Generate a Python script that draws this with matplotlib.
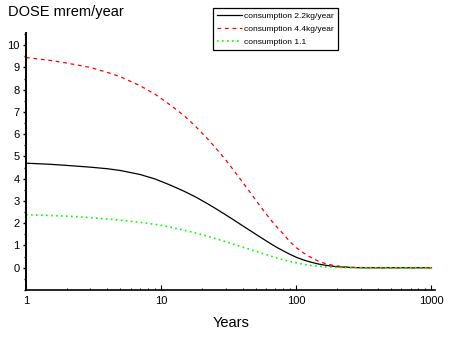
import numpy as np
import matplotlib
matplotlib.use('Agg')
import matplotlib.pyplot as plt
from matplotlib.ticker import FixedLocator, MultipleLocator, NullFormatter

plt.rcParams['font.family'] = ['Liberation Sans', 'DejaVu Sans']

# values (years, mrem/year)
years = [1, 1.5, 2, 3, 4, 5, 7, 9, 11, 13, 15, 18, 22, 25, 30, 35, 40, 45, 50, 57,
         65, 72, 80, 90, 100, 112, 125, 145, 165, 190, 220, 260, 300, 400, 500, 700, 1000]
dose_22 = [4.70, 4.65, 4.60, 4.52, 4.45, 4.37, 4.19, 3.99, 3.78, 3.59, 3.42, 3.18, 2.88, 2.68, 2.38, 2.12, 1.89, 1.69, 1.51, 1.29,
           1.07, 0.91, 0.76, 0.60, 0.47, 0.36, 0.27, 0.17, 0.11, 0.06, 0.03, 0.01, 0.0, 0.0, 0.0, 0.0, 0.0]
dose_44 = [9.45, 9.32, 9.20, 9.00, 8.78, 8.58, 8.18, 7.80, 7.43, 7.10, 6.80, 6.35, 5.80, 5.42, 4.85, 4.32, 3.85, 3.43, 3.05, 2.58,
           2.14, 1.82, 1.52, 1.16, 0.90, 0.68, 0.50, 0.30, 0.18, 0.10, 0.05, 0.02, 0.01, 0.0, 0.0, 0.0, 0.0]
dose_11 = [2.38, 2.35, 2.32, 2.25, 2.19, 2.14, 2.04, 1.95, 1.86, 1.76, 1.68, 1.56, 1.42, 1.32, 1.17, 1.04, 0.93, 0.83, 0.74, 0.63,
           0.52, 0.43, 0.36, 0.28, 0.22, 0.16, 0.11, 0.07, 0.04, 0.02, 0.01, 0.0, 0.0, 0.0, 0.0, 0.0, 0.0]

labels = ['consumption 2.2kg/year', 'consumption 4.4kg/year', 'consumption 1.1']
xticks = [1, 10, 100, 1000]
xtick_labels = ['1', '10', '100', '1000']

W, H = 451, 340
fig = plt.figure(figsize=(W / 100, H / 100), dpi=100)
ax = fig.add_axes([26 / W, 1 - 290 / H, (435 - 26) / W, (290 - 33) / H])

ax.plot(years, dose_22, color='black', lw=0.9, label=labels[0])
ax.plot(years, dose_44, color='#ff0000', lw=0.9, linestyle=(0, (3, 3)), label=labels[1])
ax.plot(years, dose_11, color='#00ff00', lw=1.2, linestyle=(0, (1, 2)), label=labels[2])

ax.set_xscale('log')
ax.set_xlim(1, 1062)
ax.set_ylim(-1, 10.55)

ax.xaxis.set_major_locator(FixedLocator(xticks))
ax.set_xticklabels(xtick_labels)
ax.xaxis.set_minor_formatter(NullFormatter())
ax.yaxis.set_major_locator(FixedLocator(list(range(0, 11))))
ax.yaxis.set_minor_locator(MultipleLocator(0.5))

ax.tick_params(axis='x', which='major', direction='in', length=3.3, width=0.8, labelsize=8, pad=4)
ax.tick_params(axis='x', which='minor', direction='in', length=1.6, width=0.8)
ax.tick_params(axis='y', which='major', direction='out', length=2.5, width=1.0, labelsize=8, pad=2)
ax.tick_params(axis='y', which='minor', direction='out', length=1.5, width=1.0)

for s in ['top', 'right']:
    ax.spines[s].set_visible(False)
ax.spines['left'].set_linewidth(1.4)
ax.spines['bottom'].set_linewidth(1.2)

fig.text(8 / W, 1 - 5 / H, 'DOSE mrem/year', fontsize=10.5, va='top', ha='left')
fig.text(231 / W, 1 - 316 / H, 'Years', fontsize=10.5, va='top', ha='center')

leg = fig.legend(loc='upper left', bbox_to_anchor=(213 / W, 1 - 8 / H), fontsize=6,
                 frameon=True, fancybox=False, framealpha=1, edgecolor='black',
                 handlelength=3.0, handletextpad=0.2, borderpad=0.5, borderaxespad=0,
                 labelspacing=0.6)
leg.get_frame().set_linewidth(0.9)

fig.savefig('out.png', dpi=100)
